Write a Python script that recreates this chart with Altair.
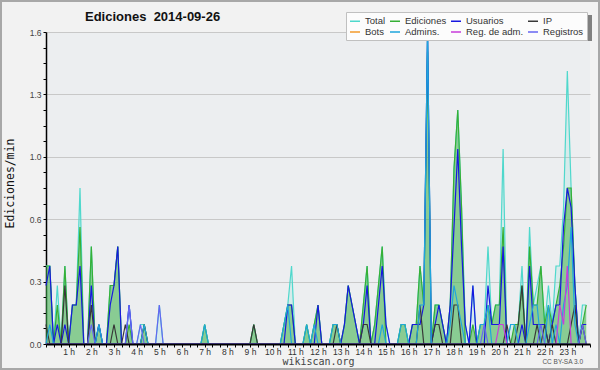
import altair as alt
import pandas as pd

# Edits per minute (in tenths), one value per 10-minute bin, 2014-09-26 (144 bins)
TOTAL = [4,4,0,3,0,4,0,2,2,8,0,0,5,0,1,0,0,3,3,5,0,0,2,0,
         0,1,1,0,0,0,2,0,0,0,0,0,0,0,0,0,0,0,1,0,0,0,0,0,
         0,0,0,0,0,0,0,1,0,0,0,0,0,0,0,1,2,4,0,0,0,1,0,1,
         2,0,0,0,1,1,0,1,3,2,1,0,2,4,0,1,3,5,1,0,0,0,1,1,
         0,1,1,4,2,16,0,2,2,1,0,2,9,12,7,1,0,3,0,1,1,5,1,2,
         2,10,0,1,1,1,4,0,6,2,3,4,1,3,1,4,4,7,14,8,3,0,2,2]
EDICIONES = [4,4,0,2,0,4,0,2,2,6,0,0,5,0,1,0,0,3,3,5,0,0,1,0,
             0,0,1,0,0,0,0,0,0,0,0,0,0,0,0,0,0,0,1,0,0,0,0,0,
             0,0,0,0,0,0,0,1,0,0,0,0,0,0,0,1,2,2,0,0,0,1,0,1,
             2,0,0,0,1,1,0,1,3,2,1,0,2,4,0,1,3,5,0,0,0,0,1,1,
             0,1,1,4,2,15,0,2,2,1,0,2,9,12,7,0,0,1,0,1,1,2,1,2,
             2,6,0,0,1,1,3,0,5,2,2,4,1,2,1,2,3,5,8,8,3,0,1,2]
USUARIOS = [3,4,0,1,0,1,0,2,2,4,0,0,3,0,1,0,0,2,3,5,0,0,2,0,
            0,0,0,0,0,0,0,0,0,0,0,0,0,0,0,0,0,0,0,0,0,0,0,0,
            0,0,0,0,0,0,0,0,0,0,0,0,0,0,0,0,2,2,0,0,0,0,0,0,
            2,0,0,0,0,0,0,1,3,2,1,0,1,3,0,0,2,4,1,0,0,0,0,0,
            0,1,1,1,2,16,0,1,2,1,0,2,6,10,5,1,0,3,0,0,0,3,1,1,
            1,5,0,0,0,0,1,0,4,1,1,1,1,0,1,2,2,6,8,7,3,0,1,1]
IP = [1,0,0,0,0,3,0,0,0,0,0,0,2,0,0,0,0,0,1,0,0,1,0,0,
      0,0,1,0,0,0,0,0,0,0,0,0,0,0,0,0,0,0,0,0,0,0,0,0,
      0,0,0,0,0,0,0,1,0,0,0,0,0,0,0,0,0,0,0,0,0,0,0,0,
      0,0,0,0,0,1,0,0,0,0,0,0,1,1,0,0,0,0,0,0,0,0,0,0,
      0,0,0,2,0,0,0,1,1,0,0,0,2,2,0,0,0,0,0,0,0,0,0,0,
      0,0,1,0,0,1,3,0,0,0,1,0,1,0,1,0,0,0,0,1,2,0,1,0]
ADMINS = [0,1,0,0,0,0,0,0,0,0,0,0,0,0,1,0,0,0,0,0,0,0,0,0,
          0,0,1,0,0,0,0,0,0,0,0,0,0,0,0,0,0,0,1,0,0,0,0,0,
          0,0,0,0,0,0,0,0,0,0,0,0,0,0,0,1,2,0,0,0,0,1,0,1,
          0,0,0,0,1,1,0,0,0,0,0,0,0,0,0,0,0,1,0,0,0,0,1,1,
          0,0,0,2,2,16,0,0,0,0,0,1,3,2,1,0,0,0,0,1,1,2,0,0,
          0,0,0,1,1,0,0,0,1,2,2,0,0,2,0,1,0,2,3,6,1,0,0,0]
REG_ADM = [0,0,0,0,0,0,0,0,0,0,0,0,0,0,0,0,0,0,0,0,0,0,0,0,
           0,0,0,0,0,0,0,0,0,0,0,0,0,0,0,0,0,0,0,0,0,0,0,0,
           0,0,0,0,0,0,0,0,0,0,0,0,0,0,0,0,0,0,0,0,0,0,0,0,
           0,0,0,0,0,0,0,0,0,0,0,0,0,0,0,0,0,0,0,0,0,0,0,0,
           0,0,0,0,0,0,0,0,0,0,0,0,0,0,0,0,0,0,0,0,0,0,0,0,
           1,1,0,0,0,0,0,0,0,0,0,0,0,0,0,0,2,1,4,0,0,0,0,0]
REGISTROS = [0,0,0,0,0,0,0,0,0,0,0,0,1,0,0,0,0,0,0,0,0,0,2,0,
             0,1,0,0,0,0,2,0,0,0,0,0,0,0,0,0,0,0,0,0,0,0,0,0,
             0,0,0,0,0,0,0,0,0,0,0,0,0,0,0,0,0,0,0,0,0,0,0,0,
             0,0,0,0,0,0,0,0,0,0,0,0,0,0,0,0,0,0,0,0,0,0,0,0,
             0,0,0,0,0,0,0,0,0,0,0,0,0,0,0,0,0,0,0,0,1,0,0,0,
             0,0,0,0,0,0,0,0,0,0,0,1,0,0,0,0,0,0,0,0,0,0,1,0]

SERIES = ["Total", "Ediciones", "Usuarios", "IP", "Bots", "Admins.", "Reg. de adm.", "Registros"]
COLORS = ["#4fd8cc", "#36b036", "#1717e0", "#383838", "#f39a2a", "#1fa6dc", "#c93ddb", "#6666f2"]
DRAWN = [("Total", TOTAL), ("Ediciones", EDICIONES), ("Usuarios", USUARIOS), ("IP", IP),
         ("Admins.", ADMINS), ("Reg. de adm.", REG_ADM), ("Registros", REGISTROS)]
Y_TICKS = [round(i * 0.08, 2) for i in range(21)]
X_TICKS = list(range(0, 1441, 20))
TITLE = "Ediciones\u00a0 2014-09-26"

rows = []
for name, vals in DRAWN:
    for i, v in enumerate(vals):
        rows.append({"s": name, "t": i * 10, "v": v / 10})
df = pd.DataFrame(rows)

base = alt.Chart(df).encode(
    x=alt.X("t:Q", scale=alt.Scale(domain=[0, 1440], nice=False, zero=False),
            axis=alt.Axis(values=X_TICKS,
                          labelExpr="datum.value % 60 == 0 && datum.value > 0 && datum.value < 1440 ? (datum.value / 60) + ' h' : ''",
                          tickSize=3, tickColor="#000", domainColor="#000", domainWidth=2,
                          labelFont="Liberation Sans", labelFontSize=8.5, labelColor="#333",
                          labelPadding=0, labelOverlap=False, labelFlush=False, grid=False,
                          title="wikiscan.org", titleFont="DejaVu Sans Mono", titleFontSize=10,
                          titleFontWeight="normal", titleColor="#444", titlePadding=1, zindex=1)),
    y=alt.Y("v:Q", scale=alt.Scale(domain=[0, 1.6], nice=False),
            axis=alt.Axis(values=Y_TICKS,
                          labelExpr="round(datum.value * 100) % 32 == 0 ? format(datum.value, '.1f') : ''",
                          gridOpacity={"condition": {"test": "round(datum.value * 100) % 32 == 0", "value": 1}, "value": 0},
                          grid=True, gridColor="#c8c8c8", tickSize=3, tickColor="#000",
                          domainColor="#000", domainWidth=1.5,
                          labelFont="Liberation Sans", labelFontSize=8.5, labelColor="#444", labelPadding=2,
                          title="Ediciones/min", titleFont="DejaVu Sans Mono", titleFontSize=11.5,
                          titleFontWeight="normal", titleColor="#111", titleX=-31, titleY=151,
                          titleAngle=-90, titleBaseline="bottom", titleAlign="center")),
)

color_enc = alt.Color("s:N", scale=alt.Scale(domain=SERIES, range=COLORS),
                      legend=alt.Legend(title=None, orient="none", legendX=300, legendY=-20,
                                        columns=4, direction="horizontal",
                                        symbolType="stroke", symbolSize=100,
                                        symbolStrokeWidth=1.5, labelFont="Liberation Sans",
                                        labelFontSize=9.5, labelColor="#333",
                                        fillColor="#fcfcfc", strokeColor="#c0c0c0",
                                        padding=3, rowPadding=0, columnPadding=1,
                                        labelOffset=4, gridAlign="each", zindex=1))

total_area = base.transform_filter("datum.s == 'Total'").mark_area(color="#45d6ca", opacity=0.13)
ed_area = base.transform_filter("datum.s == 'Ediciones'").mark_area(color="#3cae3c", opacity=0.5)

lines = []
for name, _ in DRAWN:
    lines.append(base.transform_filter(alt.datum.s == name)
                 .mark_line(strokeWidth=1.2)
                 .encode(color=color_enc))

deco_df = pd.DataFrame({"k": [0]})
shadow = alt.Chart(deco_df).mark_rect(color="#808080").encode(
    x=alt.value(304), x2=alt.value(546), y=alt.value(-17), y2=alt.value(9))
frame = alt.Chart(deco_df).mark_rect(fillOpacity=0, stroke="#a8a8a8", strokeWidth=2).encode(
    x=alt.value(-45), x2=alt.value(553), y=alt.value(-31), y2=alt.value(337))
cc = alt.Chart(deco_df).mark_text(text="CC BY-SA 3.0", align="right", baseline="middle",
                                  font="Liberation Sans", fontSize=6.5, color="#555").encode(
    x=alt.value(537), y=alt.value(330))
title = alt.Chart(deco_df).mark_text(text=TITLE, align="left", baseline="alphabetic",
                                     font="Liberation Sans", fontSize=13, fontWeight="bold",
                                     color="#111").encode(x=alt.value(39), y=alt.value(-11))

chart = alt.layer(total_area, ed_area, *lines, shadow, frame, cc, title).properties(
    width=544, height=312,
    autosize=alt.AutoSizeParams(type="none"),
    padding={"left": 46, "top": 32, "right": 10, "bottom": 26},
    background="#f2f2f2",
).configure_view(fill="#eceef0", stroke=None)

chart.save("out.html", embed_options={"renderer": "svg", "actions": False})
